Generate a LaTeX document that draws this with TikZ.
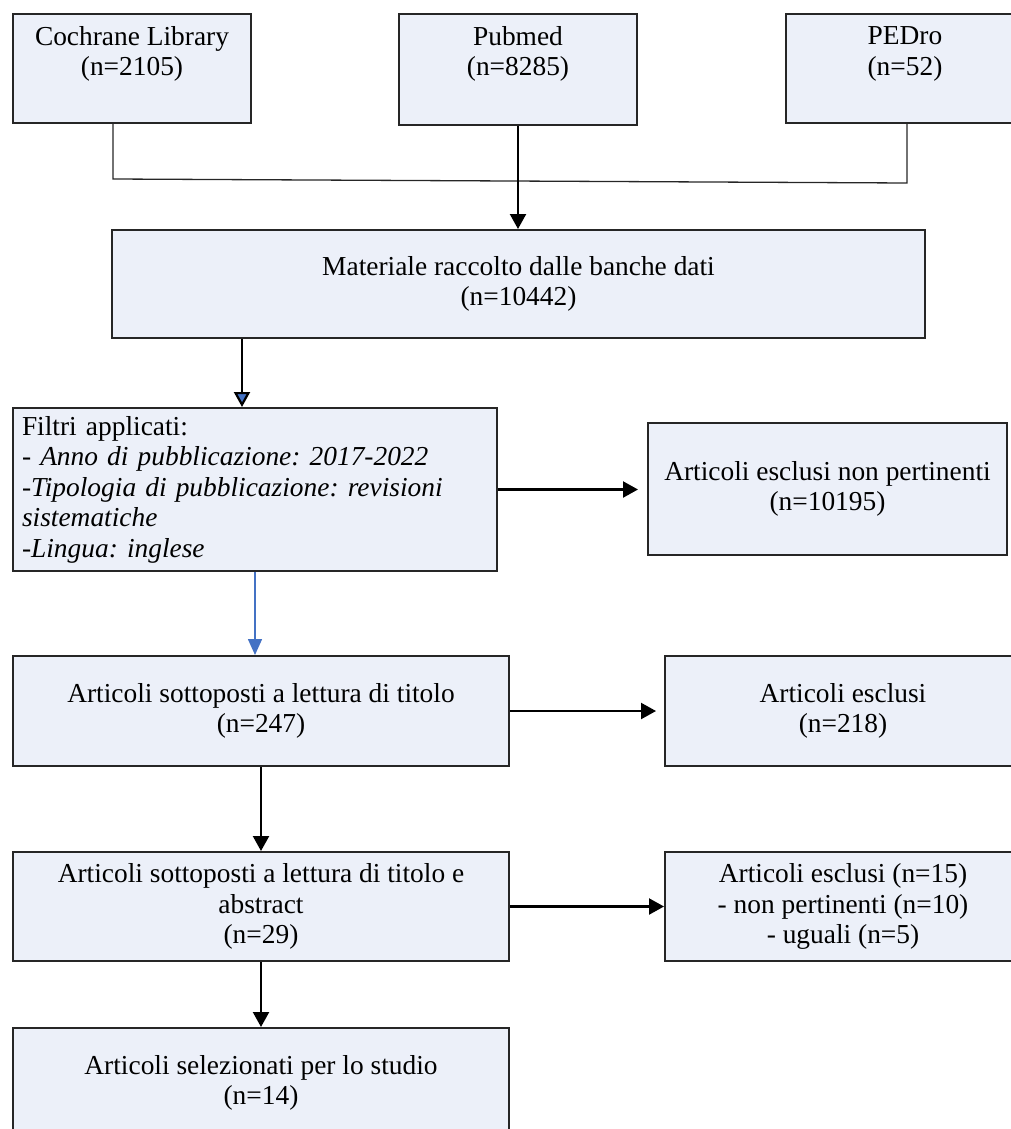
\documentclass[tikz,border=0pt]{standalone}
\usepackage{fontspec}
\setmainfont{Liberation Serif}
\usetikzlibrary{arrows.meta,calc,positioning}
\definecolor{boxfill}{RGB}{236,240,249}
\definecolor{boxline}{RGB}{38,38,38}
\definecolor{wordblue}{RGB}{68,114,196}
\frenchspacing
\begin{document}
\begin{tikzpicture}[x=1pt,y=-1pt]
        \tikzstyle{box}=[draw=boxline, fill=boxfill, line width=2pt, anchor=north west, inner sep=0pt, align=center, font=\fontsize{27.4}{30.5}\selectfont]
        \tikzstyle{txt}=[inner sep=0pt, align=center, font=\fontsize{27.4}{30.5}\selectfont]
        \tikzstyle{arr}=[line width=2.2pt, -{Triangle[width=16pt,length=15pt]}]
        \useasboundingbox (0,0) rectangle (1011,1129);
        % Databases
        \node (cochrane)[box, minimum width=238, minimum height=109] at (12,13) {};
        \node (pubmed)[box, minimum width=238, minimum height=111] at (398,13) {};
        \node (pedro)[box, minimum width=238, minimum height=109] at (785,13) {};
        \node (cochranetxt)[txt] at ($(cochrane.north)+(0,41)$) {Cochrane Library\\(n=2105)};
        \node (pubmedtxt)[txt] at ($(pubmed.north)+(0,41)$) {Pubmed\\(n=8285)};
        \node (pedrotxt)[txt] at ($(pedro.north)+(0,41)$) {PEDro\\(n=52)};
        % collected material
        \node (materiale)[box, minimum width=813, minimum height=108] at (111,229) {Materiale raccolto dalle banche dati\\(n=10442)};
        % filters
        \node (filtri)[box, align=left, text width=466, inner xsep=9pt, minimum height=163] at (12,407) {Filtri applicati:\\- \textit{Anno di pubblicazione: 2017-2022}\\-\textit{Tipologia di pubblicazione: revisioni}\\\textit{sistematiche}\\-\textit{Lingua: inglese}};
        \node (nonpert)[box, minimum width=359, minimum height=132] at (647,422) {Articoli esclusi non pertinenti\\(n=10195)};
        % screening
        \node (titolo)[box, minimum width=496, minimum height=110] at (12,655) {Articoli sottoposti a lettura di titolo\\(n=247)};
        \node (esclusi)[box, minimum width=356, minimum height=110] at (664,655) {Articoli esclusi\\(n=218)};
        \node (abstract)[box, minimum width=496, minimum height=109] at (12,851) {Articoli sottoposti a lettura di titolo e\\abstract\\(n=29)};
        \node (esclusidue)[box, minimum width=356, minimum height=109] at (664,851) {Articoli esclusi (n=15)\\- non pertinenti (n=10)\\- uguali (n=5)};
        \node (selezionati)[box, minimum width=496, minimum height=110] at (12,1027) {Articoli selezionati per lo studio\\(n=14)};
        % joining line of the databases
        \coordinate (jl) at (113,179);
        \coordinate (jr) at (907,183);
        \coordinate (jb) at (242,0);
        \draw[line width=1.3pt, color=boxline] (jl |- cochrane.south) -- (jl) -- (jr) -- (jr |- pedro.south);
        % arrows
        \draw[arr] (pubmed.south) -- (pubmed.south |- materiale.north);
        \draw[line width=2.2pt, -{Triangle[width=16pt,length=15pt,fill=wordblue]}]
            (materiale.south -| jb) -- (filtri.north -| jb);
        \draw[arr, shorten >=9pt] (filtri.east) -- (filtri.east -| nonpert.west);
        \draw[wordblue, line width=1.6pt, -{Triangle[width=14pt,length=16pt]}]
            (filtri.south) -- (filtri.south |- titolo.north);
        \draw[arr, shorten >=8pt] (titolo) -- (esclusi);
        \draw[arr] (titolo) -- (abstract);
        \draw[arr] (abstract) -- (esclusidue);
        \draw[arr] (abstract) -- (selezionati);
\end{tikzpicture}
\end{document}
